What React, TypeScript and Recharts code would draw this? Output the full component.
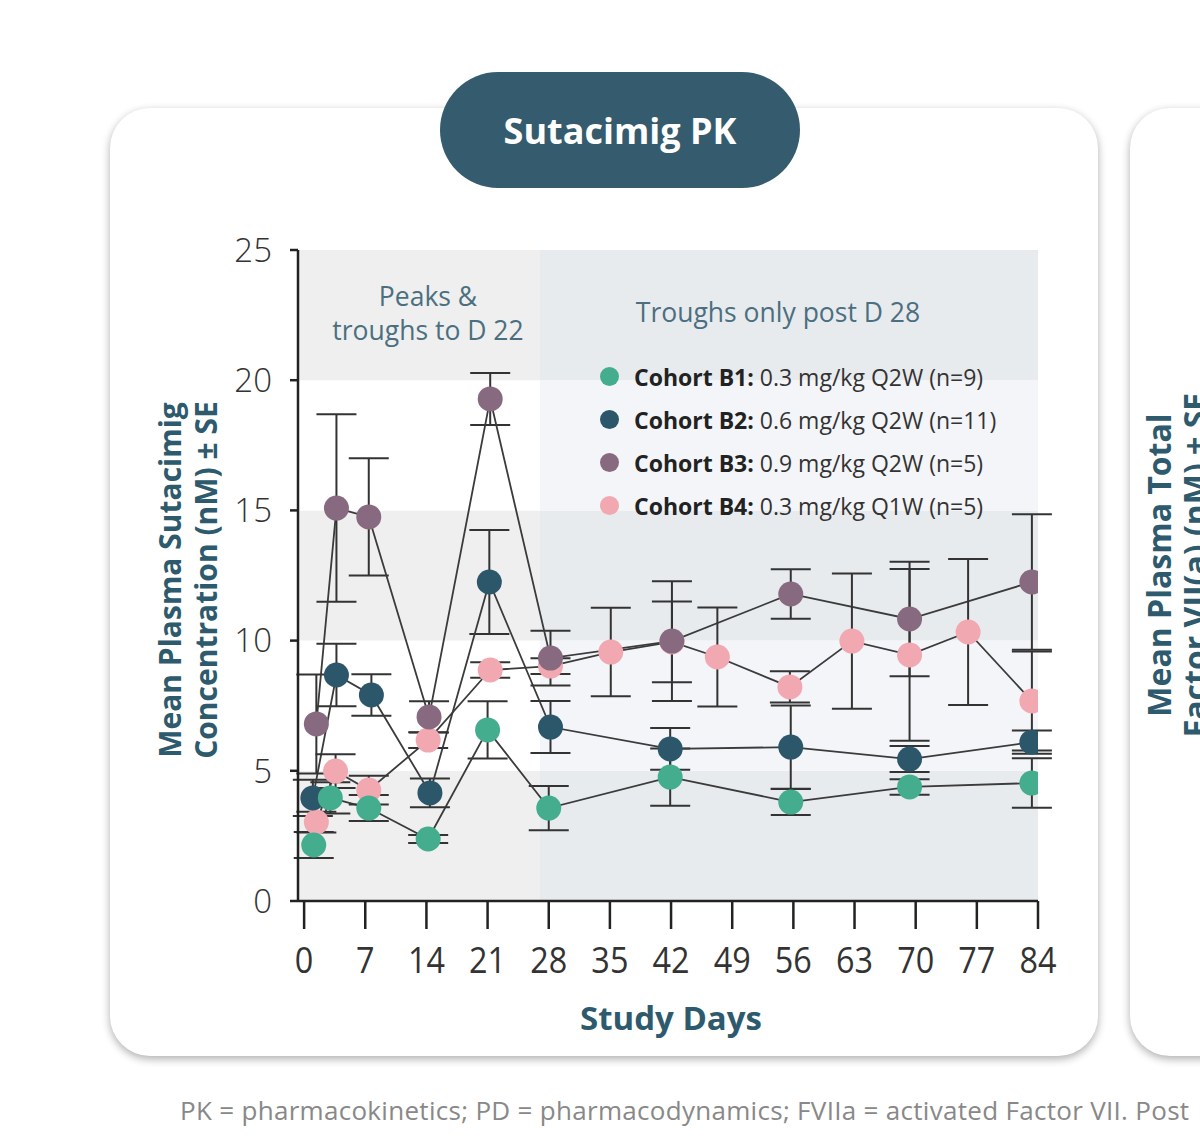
import React from 'react'
import { ComposedChart, Line, Scatter, XAxis, YAxis, ErrorBar, ReferenceArea } from 'recharts'

// study day ticks and concentration ticks
const DAY_TICKS = [0, 7, 14, 21, 28, 35, 42, 49, 56, 63, 70, 77, 84]
const CONC_TICKS = [0, 5, 10, 15, 20, 25]
const BAND_EDGES = [0, 5, 10, 15, 20, 25]
const TROUGH_START = 27

// Cohort B1: 0.3 mg/kg Q2W
const B1_DAYS = [1.1, 3.0, 7.4, 14.2, 21.0, 28.0, 41.9, 55.7, 69.3, 83.3]
const B1_MEAN = [2.15, 3.96, 3.57, 2.38, 6.57, 3.57, 4.76, 3.8, 4.38, 4.53]
const B1_SE = [0.5, 0.6, 0.5, 0.15, 1.1, 0.85, 1.1, 0.5, 0.3, 0.95]

// Cohort B2: 0.6 mg/kg Q2W
const B2_DAYS = [1.0, 3.7, 7.7, 14.4, 21.2, 28.2, 41.9, 55.7, 69.3, 83.3]
const B2_MEAN = [3.96, 8.68, 7.91, 4.15, 12.25, 6.68, 5.84, 5.91, 5.45, 6.1]
const B2_SE = [0.7, 1.2, 0.8, 0.55, 2.0, 1.0, 0.8, 1.6, 0.5, 0.45]

// Cohort B3: 0.9 mg/kg Q2W
const B3_DAYS = [1.4, 3.7, 7.4, 14.3, 21.3, 28.2, 42.1, 55.7, 69.3, 83.3]
const B3_MEAN = [6.8, 15.09, 14.75, 7.07, 19.28, 9.33, 9.98, 11.79, 10.83, 12.25]
const B3_SE = [1.9, 3.6, 2.25, 0.6, 1.0, 1.05, 2.3, 0.95, 2.2, 2.6]

// Cohort B4: 0.3 mg/kg Q1W
const B4_DAYS = [1.4, 3.6, 7.4, 14.2, 21.3, 28.2, 35.1, 42.1, 47.3, 55.6, 62.7, 69.3, 76.0, 83.3]
const B4_MEAN = [3.03, 4.99, 4.26, 6.18, 8.87, 9.02, 9.56, 9.95, 9.37, 8.22, 9.98, 9.45, 10.33, 7.68]
const B4_SE = [0.4, 0.65, 0.55, 0.3, 0.3, 0.3, 1.7, 1.55, 1.9, 0.6, 2.6, 3.3, 2.8, 1.9]

const toRows = (days: number[], mean: number[], se: number[]) =>
  days.map((d, i) => ({ day: d, v: mean[i], se: se[i] }))

const COHORTS = [
  { key: 'B1', name: 'Cohort B1:', dose: ' 0.3 mg/kg Q2W (n=9)', color: '#44ad8e', rows: toRows(B1_DAYS, B1_MEAN, B1_SE) },
  { key: 'B2', name: 'Cohort B2:', dose: ' 0.6 mg/kg Q2W (n=11)', color: '#2c566a', rows: toRows(B2_DAYS, B2_MEAN, B2_SE) },
  { key: 'B3', name: 'Cohort B3:', dose: ' 0.9 mg/kg Q2W (n=5)', color: '#876a80', rows: toRows(B3_DAYS, B3_MEAN, B3_SE) },
  { key: 'B4', name: 'Cohort B4:', dose: ' 0.3 mg/kg Q1W (n=5)', color: '#f1a8b1', rows: toRows(B4_DAYS, B4_MEAN, B4_SE) },
]

// points are stacked so that B1 sits on top
const DRAW_ORDER = ['B4', 'B2', 'B3', 'B1']

const FONT = '"Open Sans", "Noto Sans", sans-serif'
const TEAL = '#2e5a6d'
const AXIS = '#222'

const DayTick = (props: any) => {
  const { x, y, payload } = props
  return (
    <text
      x={x}
      y={y}
      dy={42}
      textAnchor="middle"
      fontFamily={FONT}
      fontSize={36}
      fill="#333"
      transform={`translate(${x} 0) scale(0.9 1) translate(${-x} 0)`}
    >
      {payload.value}
    </text>
  )
}

export default function App() {
  const bands = BAND_EDGES.slice(0, -1).map((lo, i) => ({ lo, hi: BAND_EDGES[i + 1], dark: i % 2 === 0 }))

  return (
    <div style={{ position: 'absolute', left: 0, top: 0, width: 1200, height: 1141, overflow: 'hidden', background: '#fff', fontFamily: FONT }}>
      {/* cards */}
      <div style={{ position: 'absolute', left: 110, top: 108, width: 988, height: 948, borderRadius: 40, background: '#fff', boxShadow: '0 3px 9px rgba(0,0,0,0.32)' }} />
      <div style={{ position: 'absolute', left: 1130, top: 108, width: 200, height: 948, borderRadius: 40, background: '#fff', boxShadow: '0 3px 9px rgba(0,0,0,0.32)' }} />

      {/* title pill */}
      <div style={{ position: 'absolute', left: 440, top: 72, width: 360, height: 116, borderRadius: 58, background: '#355b6e', color: '#fff', fontWeight: 700, fontSize: 36, display: 'flex', alignItems: 'center', justifyContent: 'center' }}>
        Sutacimig PK
      </div>

      <div style={{ position: 'absolute', left: 0, top: 0 }}>
        <ComposedChart width={1200} height={1141} margin={{ top: 250, right: 162, bottom: 180, left: 238 }}>
          {bands.map(b => (
            <ReferenceArea key={`l${b.lo}`} x1={-0.7} x2={TROUGH_START} y1={b.lo} y2={b.hi} fill={b.dark ? '#efefef' : '#ffffff'} fillOpacity={1} stroke="none" />
          ))}
          {bands.map(b => (
            <ReferenceArea key={`r${b.lo}`} x1={TROUGH_START} x2={84} y1={b.lo} y2={b.hi} fill={b.dark ? '#e8ebee' : '#f3f5f8'} fillOpacity={1} stroke="none" />
          ))}
          <XAxis
            type="number"
            dataKey="day"
            domain={[-0.7, 84]}
            ticks={DAY_TICKS}
            height={60}
            tickSize={28}
            tick={<DayTick />}
            axisLine={{ stroke: AXIS, strokeWidth: 2.5 }}
            tickLine={{ stroke: AXIS, strokeWidth: 2.5 }}
            allowDataOverflow
          />
          <YAxis
            type="number"
            domain={[0, 25]}
            ticks={CONC_TICKS}
            width={60}
            tickSize={8}
            tickMargin={18}
            tick={{ fontFamily: FONT, fontSize: 33, fontWeight: 300, fill: '#333' }}
            axisLine={{ stroke: AXIS, strokeWidth: 2.5 }}
            tickLine={{ stroke: AXIS, strokeWidth: 2.5 }}
            allowDataOverflow
          />
          {COHORTS.map(c => (
            <Line
              key={`line-${c.key}`}
              data={c.rows}
              dataKey="v"
              type="linear"
              stroke="#3b3b3b"
              strokeWidth={1.8}
              dot={false}
              activeDot={false}
              isAnimationActive={false}
            >
              <ErrorBar dataKey="se" direction="y" width={20} stroke="#333" strokeWidth={2} />
            </Line>
          ))}
          {DRAW_ORDER.map(k => {
            const c = COHORTS.find(x => x.key === k)!
            return (
              <Scatter
                key={`pts-${c.key}`}
                data={c.rows}
                dataKey="v"
                fill={c.color}
                isAnimationActive={false}
                shape={(p: any) => <circle cx={p.cx} cy={p.cy} r={12.5} fill={c.color} />}
              />
            )
          })}
        </ComposedChart>
      </div>

      {/* phase annotations */}
      <div style={{ position: 'absolute', left: 278, top: 279, width: 300, textAlign: 'center', color: '#4b6f80', fontSize: 26.5, lineHeight: '34px' }}>
        Peaks &amp;<br />troughs to D 22
      </div>
      <div style={{ position: 'absolute', left: 578, top: 295, width: 400, textAlign: 'center', color: '#4b6f80', fontSize: 26.5, lineHeight: '34px' }}>
        Troughs only post D 28
      </div>

      {/* legend */}
      <div style={{ position: 'absolute', left: 600, top: 355 }}>
        {COHORTS.map(c => (
          <div key={c.key} style={{ display: 'flex', alignItems: 'center', height: 43, whiteSpace: 'nowrap' }}>
            <span style={{ width: 19, height: 19, borderRadius: '50%', background: c.color, marginRight: 15, flexShrink: 0 }} />
            <span style={{ fontSize: 23, color: '#222' }}>
              <b>{c.name}</b>
              <span style={{ color: '#333' }}>{c.dose}</span>
            </span>
          </div>
        ))}
      </div>

      {/* axis titles */}
      <div style={{ position: 'absolute', left: 188, top: 580, transform: 'translate(-50%, -50%) rotate(-90deg)', textAlign: 'center', whiteSpace: 'nowrap', color: TEAL, fontWeight: 700, fontSize: 30, lineHeight: '36px' }}>
        Mean Plasma Sutacimig<br />Concentration (nM) ± SE
      </div>
      <div style={{ position: 'absolute', left: 671, top: 1017, transform: 'translate(-50%, -50%)', whiteSpace: 'nowrap', color: TEAL, fontWeight: 700, fontSize: 33 }}>
        Study Days
      </div>

      {/* neighbouring panel, clipped by the page edge as in the source */}
      <div style={{ position: 'absolute', left: 1177, top: 565, transform: 'translate(-50%, -50%) rotate(-90deg)', textAlign: 'center', whiteSpace: 'nowrap', color: TEAL, fontWeight: 700, fontSize: 32, lineHeight: '36px' }}>
        Mean Plasma Total<br />Factor VII(a) (nM) ± SE
      </div>

      {/* footnote */}
      <div style={{ position: 'absolute', left: 180, top: 1092, whiteSpace: 'nowrap', color: '#888', fontSize: 26, letterSpacing: 0.3 }}>
        PK = pharmacokinetics; PD = pharmacodynamics; FVIIa = activated Factor VII. Post
      </div>
    </div>
  )
}
